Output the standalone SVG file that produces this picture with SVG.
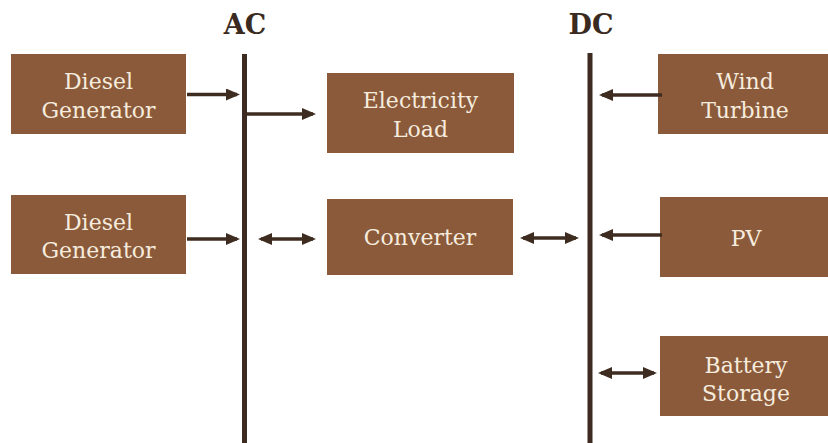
<svg xmlns="http://www.w3.org/2000/svg" width="828" height="443" viewBox="0 0 828 443">
<style>
.box{fill:#8a5a3b}
.lbl{font-family:"DejaVu Serif","Liberation Serif",serif;font-size:22px;fill:#f6ecde;text-anchor:middle}
.ttl{font-family:"DejaVu Serif","Liberation Serif",serif;font-size:27px;font-weight:bold;fill:#3a2a20;text-anchor:middle}
.bus{stroke:#3d2a20;stroke-width:5;fill:none}
.arr{stroke:#3f2c21;stroke-width:3.5;fill:none}
.e{marker-end:url(#ah)}
.b{marker-start:url(#as);marker-end:url(#ah)}
</style>
<defs>
<marker id="ah" markerUnits="userSpaceOnUse" markerWidth="16" markerHeight="14" refX="11" refY="6" orient="auto">
<path d="M0,0 L14,6 L0,12 Z" fill="#3f2c21"/>
</marker>
<marker id="as" markerUnits="userSpaceOnUse" markerWidth="16" markerHeight="14" refX="3" refY="6" orient="auto">
<path d="M14,0 L0,6 L14,12 Z" fill="#3f2c21"/>
</marker>
</defs>
<text class="ttl" x="245" y="34">AC</text>
<text class="ttl" x="591" y="34">DC</text>
<g id="buses">
<line class="bus" x1="244.5" y1="54" x2="244.5" y2="443"/>
<line class="bus" x1="590" y1="53" x2="590" y2="443"/>
</g>
<g id="dg1"><rect class="box" x="11" y="54" width="175" height="80"/><text class="lbl" x="98.5" y="89">Diesel</text><text class="lbl" x="98.5" y="118">Generator</text></g>
<g id="load"><rect class="box" x="327" y="73" width="187" height="80"/><text class="lbl" x="420.5" y="108">Electricity</text><text class="lbl" x="420.5" y="137">Load</text></g>
<g id="dg2"><rect class="box" x="11" y="195" width="175" height="79"/><text class="lbl" x="98.5" y="230">Diesel</text><text class="lbl" x="98.5" y="258">Generator</text></g>
<g id="converter"><rect class="box" x="327" y="199" width="186" height="76"/><text class="lbl" x="420" y="245">Converter</text></g>
<g id="wind"><rect class="box" x="658" y="54" width="170" height="80"/><text class="lbl" x="745" y="89">Wind</text><text class="lbl" x="745" y="118">Turbine</text></g>
<g id="pv"><rect class="box" x="660" y="197" width="168" height="80"/><text class="lbl" x="746" y="246">PV</text></g>
<g id="battery"><rect class="box" x="660" y="336" width="168" height="80"/><text class="lbl" x="746" y="373">Battery</text><text class="lbl" x="746" y="401">Storage</text></g>
<g id="connectors">
<line class="arr e" x1="187" y1="94.5" x2="237" y2="94.5"/>
<line class="arr e" x1="247" y1="114" x2="313" y2="114"/>
<line class="arr e" x1="187" y1="239" x2="237" y2="239"/>
<line class="arr b" x1="261" y1="239" x2="313" y2="239"/>
<line class="arr b" x1="523" y1="238" x2="576" y2="238"/>
<line class="arr e" x1="662" y1="95" x2="602" y2="95"/>
<line class="arr e" x1="662" y1="235" x2="602" y2="235"/>
<line class="arr b" x1="601" y1="373" x2="654" y2="373"/>
</g>
</svg>
